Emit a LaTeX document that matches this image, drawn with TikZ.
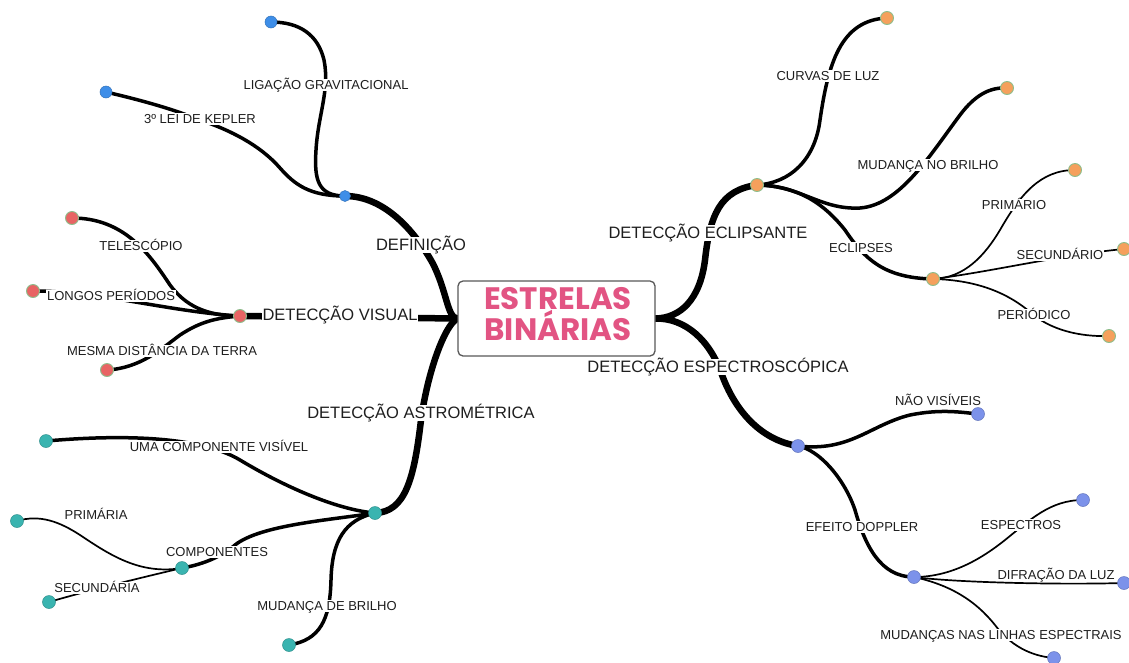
\documentclass[tikz,border=0pt]{standalone}
\usepackage{fontspec}
\setmainfont{Liberation Sans}
\newfontfamily\titlefont{Poppins}
\usetikzlibrary{backgrounds}

\definecolor{ink}{RGB}{30,30,30}
\definecolor{titlepink}{RGB}{226,84,131}
\definecolor{dotblue}{RGB}{62,142,232}
\definecolor{dotred}{RGB}{232,100,100}
\definecolor{dotteal}{RGB}{58,180,176}
\definecolor{dotorange}{RGB}{245,160,92}
\definecolor{dotviolet}{RGB}{124,146,234}
\definecolor{ringgreen}{RGB}{140,190,140}

\tikzset{
  branch/.style={draw=black, line cap=round, line join=round},
  lvone/.style={branch, line width=6.5pt},
  lvtwo/.style={branch, line width=3.5pt},
  lvthree/.style={branch, line width=1.7pt},
  dot/.style={circle, inner sep=0pt, minimum size=13pt, fill=#1, draw=#1!80!black, line width=0.5pt},
  ringdot/.style={circle, inner sep=0pt, minimum size=13pt, fill=#1, draw=ringgreen, line width=0.9pt},
  small/.style={fill=white, inner sep=1pt, text=ink, text height=9.5pt, text depth=1pt,
    font=\fontsize{13}{13}\selectfont},
  big/.style={fill=white, inner sep=1pt, text=ink, text height=12pt, text depth=1.5pt,
    font=\fontsize{16.5}{16.5}\selectfont},
  titlebox/.style={draw=black!65, line width=1.3pt, rounded corners=5pt, fill=white,
    minimum width=197pt, minimum height=75pt, align=center, text=titlepink,
    font=\titlefont\bfseries\fontsize{31}{27}\selectfont},
}

\begin{document}
\begin{tikzpicture}[x=1pt, y=-1pt]
\useasboundingbox (0,0) rectangle (1129,662);

% central topic
\node[titlebox] (root) at (556.5,318.5) {};
\node[text=titlepink, align=center, inner sep=0pt,
  font=\titlefont\bfseries\fontsize{31}{27}\selectfont] (title) at (558,314) {ESTRELAS\\BINÁRIAS};

% hubs
\node[dot=dotblue, minimum size=11pt] (def) at (345,196) {};
\node[ringdot=dotred] (vis) at (240,316) {};
\node[dot=dotteal] (ast) at (375,513) {};
\node[ringdot=dotorange] (ecl) at (757,185) {};
\node[dot=dotviolet] (spe) at (798,446) {};

% leaves, left
\node[dot=dotblue, minimum size=12pt] (lig) at (271,22) {};
\node[dot=dotblue, minimum size=12pt] (kep) at (106,92) {};
\node[ringdot=dotred] (tel) at (72,218) {};
\node[ringdot=dotred] (lon) at (33,291) {};
\node[ringdot=dotred] (mes) at (107,370) {};
\node[dot=dotteal] (uma) at (46,441) {};
\node[dot=dotteal] (com) at (182,568) {};
\node[dot=dotteal] (mdb) at (289,645) {};
\node[dot=dotteal] (pri) at (17,521) {};
\node[dot=dotteal] (sec) at (49,602) {};

% leaves, right
\node[ringdot=dotorange] (cur) at (887,18) {};
\node[ringdot=dotorange] (mnb) at (1007,88) {};
\node[ringdot=dotorange] (ecs) at (933,279) {};
\node[ringdot=dotorange] (pro) at (1075,170) {};
\node[ringdot=dotorange] (sco) at (1124,249) {};
\node[ringdot=dotorange] (per) at (1109,336) {};
\node[dot=dotviolet] (nao) at (978,414) {};
\node[dot=dotviolet] (dop) at (914,577) {};
\node[dot=dotviolet] (esp) at (1083,500) {};
\node[dot=dotviolet] (dif) at (1124,583) {};
\node[dot=dotviolet] (mud) at (1054,658) {};

\begin{pgfonlayer}{background}
\fill[white] (0,0) rectangle (1129,662);

% main branches
\draw[lvone] (root.west) .. controls (447,318) and (447,290) .. (432,262)
  .. controls (415,232) and (385,196) .. (def.center);
\draw[lvone] (root.west) -- (vis.center);
\draw[lvone] (root.west) .. controls (445,325) and (428,370) .. (421,420)
  .. controls (414,480) and (405,512) .. (ast.center);
\draw[lvone] (root.east) .. controls (680,318) and (700,300) .. (705,260)
  .. controls (710,215) and (720,190) .. (ecl.center);
\draw[lvone] (root.east) .. controls (685,318) and (710,340) .. (722,375)
  .. controls (735,410) and (760,440) .. (spe.center);

% definition
\draw[lvtwo] (def.center) .. controls (318,196) and (314,180) .. (316,150)
  .. controls (318,115) and (330,90) .. (324,60)
  .. controls (318,35) and (300,22) .. (lig.center);
\draw[lvtwo] (def.center) .. controls (310,196) and (295,185) .. (280,168)
  .. controls (260,145) and (230,130) .. (200,120)
  .. controls (170,108) and (140,100) .. (kep.center);

% visual detection
\draw[lvtwo] (vis.center) .. controls (205,316) and (185,305) .. (170,285)
  .. controls (150,255) and (125,218) .. (tel.center);
\draw[lvtwo] (vis.center) .. controls (170,312) and (100,291) .. (lon.center);
\draw[lvtwo] (vis.center) .. controls (215,318) and (200,322) .. (180,335)
  .. controls (160,350) and (140,368) .. (mes.center);

% astrometric detection
\draw[lvtwo] (ast.center) .. controls (340,510) and (290,490) .. (240,460)
  .. controls (210,442) and (150,432) .. (uma.center);
\draw[lvtwo] (ast.center) .. controls (330,520) and (260,525) .. (235,545)
  .. controls (220,558) and (200,565) .. (com.center);
\draw[lvtwo] (ast.center) .. controls (345,520) and (332,540) .. (331,580)
  .. controls (330,620) and (320,640) .. (mdb.center);
\draw[lvthree] (com.center) .. controls (140,575) and (110,555) .. (80,535)
  .. controls (60,522) and (40,514) .. (pri.center);
\draw[lvthree] (com.center) .. controls (140,578) and (90,590) .. (sec.center);

% eclipsing detection
\draw[lvtwo] (ecl.center) .. controls (790,183) and (815,160) .. (820,120)
  .. controls (828,65) and (840,20) .. (cur.center);
\draw[lvtwo] (ecl.center) .. controls (800,185) and (820,210) .. (860,208)
  .. controls (900,205) and (930,155) .. (960,115)
  .. controls (975,95) and (990,87) .. (mnb.center);
\draw[lvtwo] (ecl.center) .. controls (800,186) and (825,205) .. (845,230)
  .. controls (865,260) and (885,278) .. (ecs.center);
\draw[lvthree] (ecs.center) .. controls (965,278) and (985,255) .. (1000,230)
  .. controls (1020,195) and (1040,170) .. (pro.center);
\draw[lvthree] (ecs.center) .. controls (990,272) and (1060,255) .. (sco.center);
\draw[lvthree] (ecs.center) .. controls (980,280) and (1010,295) .. (1030,312)
  .. controls (1050,330) and (1080,337) .. (per.center);

% spectroscopic detection
\draw[lvtwo] (spe.center) .. controls (850,452) and (870,425) .. (910,415)
  .. controls (940,409) and (960,412) .. (nao.center);
\draw[lvtwo] (spe.center) .. controls (820,450) and (845,480) .. (855,510)
  .. controls (865,545) and (880,577) .. (dop.center);
\draw[lvthree] (dop.center) .. controls (950,577) and (980,560) .. (1005,540)
  .. controls (1030,520) and (1050,500) .. (esp.center);
\draw[lvthree] (dop.center) .. controls (950,582) and (1050,585) .. (dif.center);
\draw[lvthree] (dop.center) .. controls (950,585) and (975,600) .. (995,625)
  .. controls (1010,645) and (1030,656) .. (mud.center);
\end{pgfonlayer}

% branch labels
\node[big] (tdef) at (421,245) {DEFINIÇÃO};
\node[big] (tvis) at (340,315) {DETECÇÃO VISUAL};
\node[big] (tast) at (421,413) {DETECÇÃO ASTROMÉTRICA};
\node[big] (tecl) at (708,233) {DETECÇÃO ECLIPSANTE};
\node[big] (tspe) at (718,367) {DETECÇÃO ESPECTROSCÓPICA};

\node[small] (tlig) at (326,85) {LIGAÇÃO GRAVITACIONAL};
\node[small] (tkep) at (200,119) {3º LEI DE KEPLER};
\node[small] (ttel) at (141,246) {TELESCÓPIO};
\node[small] (tlon) at (111,296) {LONGOS PERÍODOS};
\node[small] (tmes) at (162,351) {MESMA DISTÂNCIA DA TERRA};
\node[small] (tuma) at (219,447) {UMA COMPONENTE VISÍVEL};
\node[small] (tcom) at (217,552) {COMPONENTES};
\node[small] (tmdb) at (327,606) {MUDANÇA DE BRILHO};
\node[small] (tpri) at (96,515) {PRIMÁRIA};
\node[small] (tsec) at (97,588) {SECUNDÁRIA};

\node[small] (tcur) at (828,76) {CURVAS DE LUZ};
\node[small] (tmnb) at (928,165) {MUDANÇA NO BRILHO};
\node[small] (tecs) at (861,248) {ECLIPSES};
\node[small] (tpro) at (1014,205) {PRIMÁRIO};
\node[small] (tsco) at (1060,255) {SECUNDÁRIO};
\node[small] (tper) at (1034,315) {PERIÓDICO};
\node[small] (tnao) at (938,401) {NÃO VISÍVEIS};
\node[small] (tdop) at (862,527) {EFEITO DOPPLER};
\node[small] (tesp) at (1021,525) {ESPECTROS};
\node[small] (tdif) at (1056,575) {DIFRAÇÃO DA LUZ};
\node[small] (tmud) at (1001,635) {MUDANÇAS NAS LINHAS ESPECTRAIS};
\end{tikzpicture}
\end{document}
